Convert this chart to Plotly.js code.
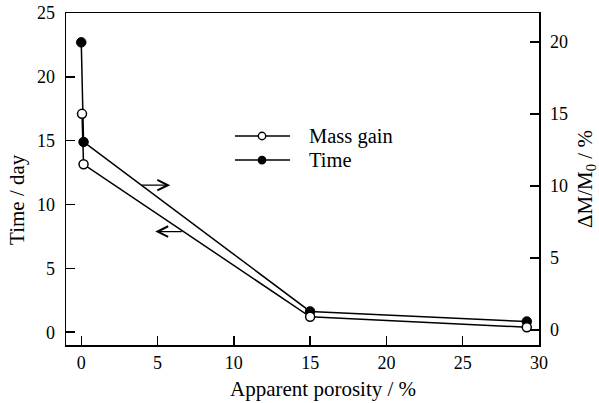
<!DOCTYPE html>
<html>
<head>
<meta charset="utf-8">
<script src="https://cdn.plot.ly/plotly-3.0.1.min.js"></script>
<style>html,body{margin:0;padding:0;background:#fff;}#chart{width:599px;height:403px;}</style>
</head>
<body>
<div id="chart"></div>
<script>
// Data
var porosityTime = [0, 0.15, 15, 29.2];
var timeDays = [22.7, 14.9, 1.63, 0.84];
var porosityMass = [0.05, 0.15, 15, 29.2];
var massGain = [15.0, 11.5, 0.92, 0.19];
var seriesNames = ['Mass gain', 'Time'];
var xTicks = [0, 5, 10, 15, 20, 25, 30];
var yTicks = [0, 5, 10, 15, 20, 25];
var y2Ticks = [0, 5, 10, 15, 20];
var xTitle = 'Apparent porosity / %';
var yTitle = 'Time / day';
var y2Title = 'ΔM/M<sub>0</sub> / %';

var fam = 'Liberation Serif, Times New Roman, serif';
var tickFont = {family: fam, size: 18, color: '#000'};
var titleFont = {family: fam, size: 21, color: '#000'};
var legFont = {family: fam, size: 20.5, color: '#000'};

var traces = [
  {
    x: porosityMass, y: massGain, yaxis: 'y2', name: seriesNames[0],
    mode: 'lines+markers', type: 'scatter', showlegend: false,
    line: {color: '#000', width: 1.5},
    marker: {symbol: 'circle', size: 9, color: '#fff', line: {color: '#000', width: 1.5}}
  },
  {
    x: porosityTime, y: timeDays, yaxis: 'y', name: seriesNames[1],
    mode: 'lines+markers', type: 'scatter', showlegend: false,
    line: {color: '#000', width: 1.5},
    marker: {symbol: 'circle', size: 9.5, color: '#000', line: {color: '#000', width: 1}}
  }
];

// legend drawn as shapes + text (paper coordinates)
var legRows = [0.6295, 0.557];
var legFill = ['#fff', '#000'];
var shapes = [];
var annotations = [];
for (var i = 0; i < seriesNames.length; i++) {
  shapes.push({type: 'line', xref: 'paper', yref: 'paper', x0: 0.3573, x1: 0.4736,
               y0: legRows[i], y1: legRows[i], line: {color: '#000', width: 1.5}});
  shapes.push({type: 'circle', xref: 'paper', yref: 'paper', xsizemode: 'pixel', ysizemode: 'pixel',
               xanchor: 0.4144, yanchor: legRows[i], x0: -3.7, x1: 3.7, y0: -3.7, y1: 3.7,
               fillcolor: legFill[i], line: {color: '#000', width: 1.4}});
  annotations.push({xref: 'paper', yref: 'paper', x: 0.5095, y: legRows[i], xanchor: 'left',
                    yanchor: 'middle', text: seriesNames[i], showarrow: false, font: legFont});
}
annotations.push({x: 5.83, y: 11.52, xref: 'x', yref: 'y', text: '', showarrow: true,
   ax: -30, ay: 0, arrowhead: 5, arrowsize: 1.6, arrowwidth: 1.3, arrowcolor: '#000'});
annotations.push({x: 4.85, y: 7.88, xref: 'x', yref: 'y', text: '', showarrow: true,
   ax: 28, ay: 0, arrowhead: 5, arrowsize: 1.6, arrowwidth: 1.3, arrowcolor: '#000'});
// axis titles placed as in the reference (off-centre)
annotations.push({xref: 'paper', yref: 'paper', x: 0.543, y: -0.1325, xanchor: 'center', yanchor: 'middle',
   text: xTitle, showarrow: false, font: titleFont});
annotations.push({xref: 'paper', yref: 'paper', x: -0.1036, y: 0.44, xanchor: 'center', yanchor: 'middle',
   text: yTitle, textangle: -90, showarrow: false, font: titleFont});

var layout = {
  width: 599, height: 403,
  margin: {l: 66, r: 60, t: 13, b: 58},
  paper_bgcolor: '#fff', plot_bgcolor: '#fff',
  font: tickFont,
  showlegend: false,
  xaxis: {
    range: [-1, 30], tickvals: xTicks,
    ticks: 'inside', ticklen: 9, tickwidth: 1.5, tickcolor: '#000', tickfont: tickFont,
    showline: true, linewidth: 1.5, linecolor: '#000', mirror: true,
    showgrid: false, zeroline: false, ticklabelstandoff: 1
  },
  yaxis: {
    range: [-1, 25], tickvals: yTicks,
    ticks: 'inside', ticklen: 9, tickwidth: 1.5, tickcolor: '#000', tickfont: tickFont,
    showline: true, linewidth: 1.5, linecolor: '#000', mirror: true,
    showgrid: false, zeroline: false, ticklabelstandoff: 6
  },
  yaxis2: {
    overlaying: 'y', side: 'right',
    range: [-1.04, 22], tickvals: y2Ticks,
    ticks: 'inside', ticklen: 9, tickwidth: 1.5, tickcolor: '#000', tickfont: tickFont,
    showline: true, linewidth: 1.5, linecolor: '#000',
    showgrid: false, zeroline: false, ticklabelstandoff: 6,
    title: {text: y2Title, font: titleFont, standoff: 12}
  },
  shapes: shapes,
  annotations: annotations
};

Plotly.newPlot('chart', traces, layout, {displayModeBar: false, staticPlot: true});
</script>
</body>
</html>
